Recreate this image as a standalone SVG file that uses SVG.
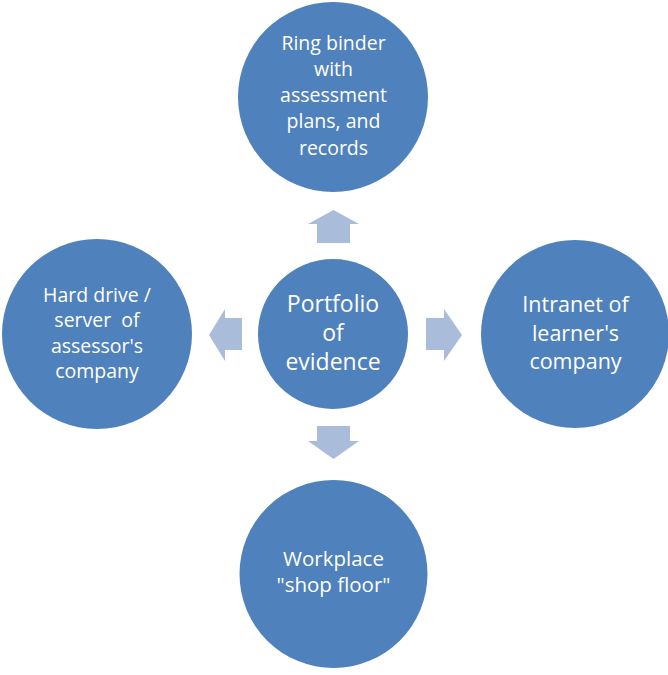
<svg xmlns="http://www.w3.org/2000/svg" width="668" height="675" viewBox="0 0 668 675">
<style>
.node circle{fill:#4F81BD;}
.node text{fill:#FFFFFF;font-family:"Open Sans","Noto Sans",sans-serif;text-anchor:middle;white-space:pre;}
.arrow{fill:#A9BCDA;}
</style>
<rect width="668" height="675" fill="#FFFFFF"/>
<g id="connectors">
<polygon class="arrow" points="333.5,210 359,224 350,224 350,243 317,243 317,224 308,224"/>
<polygon class="arrow" points="209,335 225,309 225,318 242,318 242,350 225,350 225,361"/>
<polygon class="arrow" points="462,335 444,309 444,318 426,318 426,350 444,350 444,361"/>
<polygon class="arrow" points="333.5,459 359,441 350,441 350,426 317,426 317,441 308,441"/>
</g>
<g id="node-center" class="node">
<circle cx="333" cy="334" r="75"/>
<text font-size="23"><tspan x="333" y="312">Portfolio</tspan><tspan x="333" y="341">of</tspan><tspan x="333" y="370">evidence</tspan></text>
</g>
<g id="node-top" class="node">
<circle cx="333" cy="97" r="95"/>
<text font-size="19.5"><tspan x="333.5" y="50">Ring binder</tspan><tspan x="333.5" y="76">with</tspan><tspan x="333.5" y="102">assessment</tspan><tspan x="333.5" y="128">plans, and</tspan><tspan x="333.5" y="155">records</tspan></text>
</g>
<g id="node-left" class="node">
<circle cx="97" cy="334" r="95"/>
<text font-size="19.5"><tspan x="97" y="302">Hard drive /</tspan><tspan x="97" y="327">server  of</tspan><tspan x="97" y="353">assessor's</tspan><tspan x="97" y="378">company</tspan></text>
</g>
<g id="node-right" class="node">
<circle cx="575" cy="334" r="94"/>
<text font-size="21.5"><tspan x="575.5" y="312">Intranet of</tspan><tspan x="575.5" y="341">learner's</tspan><tspan x="575.5" y="369">company</tspan></text>
</g>
<g id="node-bottom" class="node">
<circle cx="333.5" cy="574" r="94"/>
<text font-size="20.5"><tspan x="333.5" y="566">Workplace</tspan><tspan x="333.5" y="592">"shop floor"</tspan></text>
</g>
</svg>
